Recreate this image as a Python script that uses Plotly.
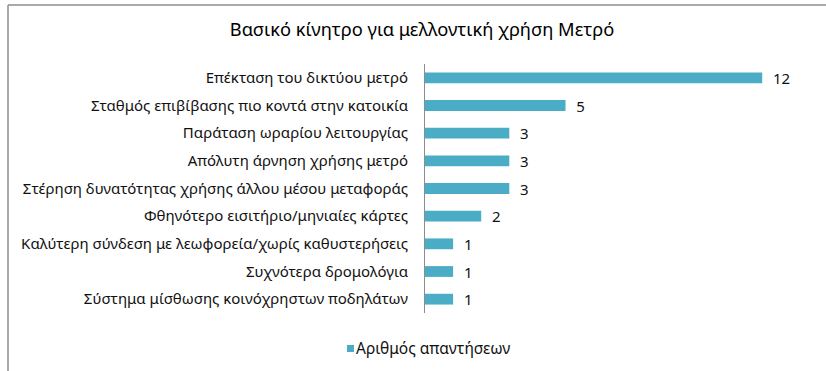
import plotly.graph_objects as go

# Survey: main motivation for future metro use (number of responses)
categories = [
    "Επέκταση του δικτύου μετρό",
    "Σταθμός επιβίβασης πιο κοντά στην κατοικία",
    "Παράταση ωραρίου λειτουργίας",
    "Απόλυτη άρνηση χρήσης μετρό",
    "Στέρηση δυνατότητας χρήσης άλλου μέσου μεταφοράς",
    "Φθηνότερο εισιτήριο/μηνιαίες κάρτες",
    "Καλύτερη σύνδεση με λεωφορεία/χωρίς καθυστερήσεις",
    "Συχνότερα δρομολόγια",
    "Σύστημα μίσθωσης κοινόχρηστων ποδηλάτων",
]
responses = [12, 5, 3, 3, 3, 2, 1, 1, 1]
series_name = "Αριθμός απαντήσεων"
title_text = "Βασικό κίνητρο για μελλοντική χρήση Μετρό"

BAR_COLOR = "#4BACC6"
FONT = "Noto Sans"
TEXT_COLOR = "#111111"

W, H = 826, 371
M_L, M_R, M_T, M_B = 425, 8, 64, 58
PLOT_W = W - M_L - M_R
PLOT_H = H - M_T - M_B


def px_to_paper_x(px):
    return (px - M_L) / PLOT_W


def px_to_paper_y(py):
    return (H - M_B - py) / PLOT_H


fig = go.Figure()

fig.add_trace(go.Bar(
    x=responses,
    y=categories,
    orientation="h",
    name=series_name,
    marker=dict(color=BAR_COLOR, line=dict(width=0)),
    width=0.39,
    text=responses,
    texttemplate="  %{x}",
    textposition="outside",
    constraintext="none",
    cliponaxis=False,
    textfont=dict(family=FONT, size=15, color=TEXT_COLOR),
    showlegend=False,
    hoverinfo="x+y",
))

# Legend: small square swatch followed by the series name
fig.add_shape(
    type="rect", xref="paper", yref="paper",
    x0=px_to_paper_x(347), x1=px_to_paper_x(354),
    y0=px_to_paper_y(352), y1=px_to_paper_y(345),
    fillcolor=BAR_COLOR, line=dict(width=0),
)
fig.add_annotation(
    text=series_name, xref="paper", yref="paper",
    x=px_to_paper_x(354), xanchor="left",
    y=px_to_paper_y(348), yanchor="middle",
    showarrow=False,
    font=dict(family=FONT, size=15.5, color=TEXT_COLOR),
)

# Chart frame (left and top edges)
frame = dict(type="line", xref="paper", yref="paper",
             line=dict(color="#8c8c8c", width=1.5))
fig.add_shape(**frame, x0=px_to_paper_x(8), x1=px_to_paper_x(8),
              y0=px_to_paper_y(5), y1=px_to_paper_y(H + 5))
fig.add_shape(**frame, x0=px_to_paper_x(8), x1=px_to_paper_x(W + 5),
              y0=px_to_paper_y(5), y1=px_to_paper_y(5))

fig.update_layout(
    width=W, height=H,
    margin=dict(l=M_L, r=M_R, t=M_T, b=M_B, pad=0),
    paper_bgcolor="white",
    plot_bgcolor="white",
    font=dict(family=FONT, size=15, color=TEXT_COLOR),
    title=dict(
        text=title_text,
        font=dict(family=FONT, size=18.3, color="#000000"),
        x=422 / W, xanchor="center",
        y=1 - 30 / H, yanchor="middle",
        xref="container", yref="container",
    ),
    showlegend=False,
)

fig.update_xaxes(
    range=[0, PLOT_W / 28.1],
    visible=False,
    showgrid=False,
    zeroline=False,
)
fig.update_yaxes(
    categoryorder="array",
    categoryarray=categories,
    autorange="reversed",
    showline=True,
    linecolor="#8c8c8c",
    linewidth=1,
    ticks="",
    ticklabelstandoff=13,
    showgrid=False,
    tickfont=dict(family=FONT, size=15, color=TEXT_COLOR),
)

fig.write_html("out.html")
